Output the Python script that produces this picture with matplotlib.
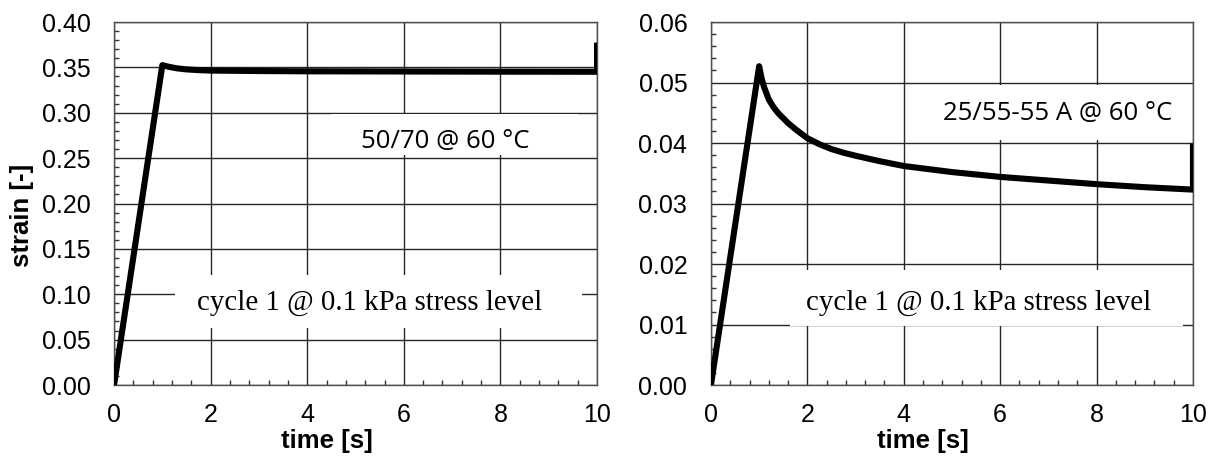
import numpy as np
import matplotlib
matplotlib.use('Agg')
import matplotlib.pyplot as plt
from matplotlib.ticker import MultipleLocator, FormatStrFormatter
from matplotlib.patches import Rectangle

# creep curve 50/70 @ 60 C
t_left = [0, 1.0, 1.15, 1.3, 1.5, 1.75, 2, 3, 4, 6, 8, 10, 10]
strain_left = [0, 0.3525, 0.3505, 0.3490, 0.3478, 0.3470, 0.3465, 0.3460, 0.3457,
               0.3455, 0.3453, 0.3452, 0.374]

# creep curve 25/55-55 A @ 60 C
t_right = [0, 1.0, 1.05, 1.1, 1.2, 1.3, 1.4, 1.5, 1.6, 1.75, 2.0, 2.25, 2.5, 2.75,
           3.0, 3.5, 4, 5, 6, 7, 8, 9, 10, 10]
strain_right = [0, 0.0527, 0.0507, 0.0493, 0.0472, 0.0459, 0.0449, 0.0441, 0.0433,
                0.0423, 0.0408, 0.0398, 0.0390, 0.0384, 0.0379, 0.0370, 0.0362,
                0.0352, 0.0344, 0.0338, 0.0332, 0.0327, 0.0323, 0.0394]

x_ticks = [0, 2, 4, 6, 8, 10]
y_ticks_left = [0.00, 0.05, 0.10, 0.15, 0.20, 0.25, 0.30, 0.35, 0.40]
y_ticks_right = [0.00, 0.01, 0.02, 0.03, 0.04, 0.05, 0.06]

material_left = '50/70 @ 60 °C'
material_right = '25/55-55 A @ 60 °C'
cycle_text = 'cycle 1 @ 0.1 kPa stress level'

plt.rcParams['font.family'] = 'Liberation Sans'

fig = plt.figure(figsize=(12.30, 4.59), dpi=100)
ax1 = fig.add_axes([0.0927, 0.1612, 0.3927, 0.7908])
ax2 = fig.add_axes([0.578, 0.1612, 0.3919, 0.7908])


def style_axes(ax, yticks, yminor):
    ax.set_xlim(0, 10)
    ax.set_ylim(yticks[0], yticks[-1])
    ax.set_xticks(x_ticks)
    ax.set_yticks(yticks)
    ax.xaxis.set_minor_locator(MultipleLocator(0.4))
    ax.yaxis.set_minor_locator(MultipleLocator(yminor))
    ax.yaxis.set_major_formatter(FormatStrFormatter('%.2f'))
    ax.set_axisbelow(True)
    ax.grid(True, which='major', color='0.15', linewidth=1.0)
    ax.tick_params(which='major', length=0, labelsize=18)
    ax.tick_params(axis='y', which='major', pad=17)
    ax.tick_params(axis='x', which='major', pad=13)
    ax.tick_params(which='minor', direction='in', length=3.6, width=1.0, color='0.2')
    for s in ax.spines.values():
        s.set_color('0.3')
        s.set_linewidth(1.0)
    ax.set_xlabel('time [s]', fontsize=18.5, fontweight='bold')
    ax.xaxis.set_label_coords(0.44, -0.12)


style_axes(ax1, y_ticks_left, 0.01)
style_axes(ax2, y_ticks_right, 0.002)

ax1.set_ylabel('strain [-]', fontsize=18.5, fontweight='bold')
ax1.yaxis.set_label_coords(-0.166, 0.467)

# white text boxes
ax1.add_patch(Rectangle((0.127, 0.157), 0.842, 0.146, transform=ax1.transAxes,
                        facecolor='white', edgecolor='none', zorder=1))
ax1.add_patch(Rectangle((0.45, 0.633), 0.51, 0.114, transform=ax1.transAxes,
                        facecolor='white', edgecolor='none', zorder=1))
ax2.add_patch(Rectangle((0.164, 0.163), 0.815, 0.154, transform=ax2.transAxes,
                        facecolor='white', edgecolor='none', zorder=1))
ax2.add_patch(Rectangle((0.42, 0.674), 0.565, 0.153, transform=ax2.transAxes,
                        facecolor='white', edgecolor='none', zorder=1))

ax1.plot(t_left, strain_left, color='black', linewidth=4.4, zorder=4)
ax2.plot(t_right, strain_right, color='black', linewidth=4.4, zorder=4)

ax1.text(6.85, 0.2678, material_left, family='Open Sans', fontsize=18.5,
         ha='center', va='center', zorder=3)
ax2.text(7.2, 0.04496, material_right, family='Open Sans', fontsize=18.5,
         ha='center', va='center', zorder=3)
ax1.text(5.29, 0.0904, cycle_text, family='Liberation Serif', fontsize=20.8,
         ha='center', va='center', zorder=3)
ax2.text(5.56, 0.01355, cycle_text, family='Liberation Serif', fontsize=20.8,
         ha='center', va='center', zorder=3)

fig.savefig('out.png', dpi=100)
